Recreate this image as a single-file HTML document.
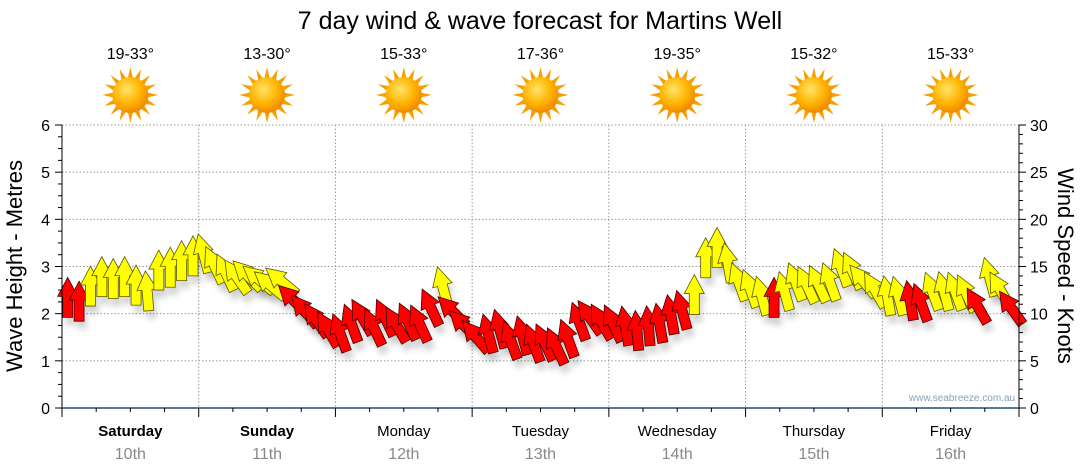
<!DOCTYPE html>
<html><head><meta charset="utf-8"><style>
html,body{margin:0;padding:0;background:#fff;}
svg{display:block;font-family:"Liberation Sans","DejaVu Sans",sans-serif;}
</style></head><body>
<svg id="chart" width="1080" height="475">
<defs>
<filter id="sh" x="-50%" y="-50%" width="200%" height="200%"><feGaussianBlur stdDeviation="3"/></filter>
<radialGradient id="sunG" cx="40%" cy="35%" r="65%"><stop offset="0" stop-color="#ffe36a"/><stop offset="0.6" stop-color="#ffb400"/><stop offset="1" stop-color="#f08a00"/></radialGradient>
</defs>
<text x="540" y="29" text-anchor="middle" font-size="25" fill="#000">7 day wind &amp; wave forecast for Martins Well</text>
<g id="grid"></g>
<g id="arrows"></g>
<g id="axes"></g>
<text x="962" y="401" text-anchor="middle" font-size="10" fill="#8aa0b8">www.seabreeze.com.au</text>
<text transform="translate(22,266) rotate(-90)" text-anchor="middle" font-size="22" fill="#000">Wave Height - Metres</text>
<text transform="translate(1058,266) rotate(90)" text-anchor="middle" font-size="22" fill="#000">Wind Speed - Knots</text>
</svg>
<script>
const days = ["Saturday","Sunday","Monday","Tuesday","Wednesday","Thursday","Friday"];
const dates = ["10th","11th","12th","13th","14th","15th","16th"];
const boldDays = [true,true,false,false,false,false,false];
const temps = ["19-33°","13-30°","15-33°","17-36°","19-35°","15-32°","15-33°"];
const leftTicks = [0,1,2,3,4,5,6];
const rightTicks = [0,5,10,15,20,25,30];
const windKnots = [11.3,10.9,12.5,13.5,13.3,13.5,12.6,12.0,14.2,14.5,15.2,15.7,
16.0,14.8,14.0,13.6,13.8,13.4,12.8,13.2,11.2,10.0,9.0,8.0,
7.6,8.6,9.3,8.2,9.2,8.5,8.8,8.6,10.3,12.5,10.0,8.5,
7.3,7.5,8.0,6.8,7.3,6.5,6.6,6.2,7.0,8.8,9.3,8.8,
8.6,8.3,7.8,8.3,8.6,9.5,10.0,11.6,15.5,16.6,15.0,13.0,
12.3,11.5,11.3,12.0,13.0,12.7,12.8,13.0,14.5,14.2,13.2,12.2,
11.5,11.5,11.0,10.8,12.0,12.0,12.0,11.8,10.5,13.5,12.2,10.3];
const windDir = [0,0,0,0,0,0,0,-5,0,0,0,0,
-15,-25,-25,-35,-45,-50,-50,-50,-45,-40,-35,-30,
-20,-20,-30,-25,-25,-30,-25,-25,-25,-15,-45,-45,
-40,-15,-15,-20,-15,-20,-25,-25,-20,-20,-35,-30,
-25,-10,-5,-5,-10,-10,-15,0,0,0,-10,-20,
-20,-15,0,-15,-20,-25,-25,-20,-20,-25,-40,-30,
-10,-15,-10,-20,-20,-15,-20,-25,-30,-15,-30,-35];
const windCat = ["R","R","Y","Y","Y","Y","Y","Y","Y","Y","Y","Y",
"Y","Y","Y","Y","Y","Y","Y","Y","R","R","R","R",
"R","R","R","R","R","R","R","R","R","Y","R","R",
"R","R","R","R","R","R","R","R","R","R","R","R",
"R","R","R","R","R","R","R","Y","Y","Y","Y","Y",
"Y","Y","R","Y","Y","Y","Y","Y","Y","Y","Y","Y",
"Y","Y","R","R","Y","Y","Y","Y","R","Y","Y","R"];

const NS="http://www.w3.org/2000/svg";
const X0=62,X1=1019,Y0=408,Y1=125;
const totalHours=168;
function xH(h){return X0+(h/totalHours)*(X1-X0);}
function yM(m){return Y0-(m/6)*(Y0-Y1);}
function yK(k){return Y0-(k/30)*(Y0-Y1);}
function mk(tag,attrs,parent){const e=document.createElementNS(NS,tag);for(const k in attrs)e.setAttribute(k,attrs[k]);parent.appendChild(e);return e;}
const grid=document.getElementById('grid'),axes=document.getElementById('axes'),arrows=document.getElementById('arrows'),svg=document.getElementById('chart');

leftTicks.forEach(v=>{ if(v>0){const l=mk('line',{x1:X0,x2:X1,y1:yM(v),y2:yM(v),stroke:'#999','stroke-dasharray':'1.5,2','stroke-width':1},grid);

}});
days.forEach((d,i)=>{ if(i>0){const l=mk('line',{x1:xH(i*24),x2:xH(i*24),y1:Y1,y2:Y0,stroke:'#999','stroke-dasharray':'1.5,2','stroke-width':1},grid);

}});

mk('line',{x1:X0,x2:X0,y1:Y1,y2:Y0,stroke:'#000'},axes);
mk('line',{x1:X1,x2:X1,y1:Y1,y2:Y0,stroke:'#000'},axes);
mk('line',{x1:X0,x2:X1,y1:Y0,y2:Y0,stroke:'#1f4f7a','stroke-width':1.5},axes);
for(let m=0;m<=24;m++){const y=yM(m/4);mk('line',{x1:X0-(m%4?4:7),x2:X0,y1:y,y2:y,stroke:'#000'},axes);}
for(let k=0;k<=30;k++){const y=yK(k);mk('line',{x1:X1,x2:X1+(k%5?4:7),y1:y,y2:y,stroke:'#000'},axes);}
leftTicks.forEach(v=>{const t=mk('text',{x:X0-12,y:yM(v)+6,'text-anchor':'end','font-size':16},axes);t.textContent=v;

});
rightTicks.forEach(v=>{const t=mk('text',{x:X1+11,y:yK(v)+6,'text-anchor':'start','font-size':16},axes);t.textContent=v;

});
for(let h=0;h<=168;h+=6){const x=xH(h);mk('line',{x1:x,x2:x,y1:Y0,y2:Y0+(h%24?4:9),stroke:'#000'},axes);}

days.forEach((d,i)=>{const cx=xH(i*24+12);
const t=mk('text',{x:cx,y:436,'text-anchor':'middle','font-size':15,'font-weight':boldDays[i]?'bold':'normal'},axes);t.textContent=d;


const t2=mk('text',{x:cx,y:459,'text-anchor':'middle','font-size':16,fill:'#888'},axes);t2.textContent=dates[i];


const t3=mk('text',{x:cx,y:59,'text-anchor':'middle','font-size':16},svg);t3.textContent=temps[i];


const g=mk('g',{transform:`translate(${cx},95)`},svg);


for(let r=0;r<16;r++){const a=r*22.5;mk('polygon',{points:'-2.5,-17 0,-28 2.5,-17',fill:'#f5a000',transform:`rotate(${a})`},g);}
mk('circle',{r:18,fill:'url(#sunG)'},g);
});

// arrow shape: tip at top, ~40px long, 20px head, 10px shaft
const arrowPts="0,-24 10,-5 5,-5 5,16 -5,16 -5,-5 -10,-5";
windKnots.forEach((k,i)=>{const x=xH(2*i+1),y=yK(k);
const s=mk('polygon',{points:arrowPts,fill:'rgba(0,0,0,0.16)',filter:'url(#sh)',transform:`translate(${x+3},${y+8}) rotate(${windDir[i]})`},arrows);

});
windKnots.forEach((k,i)=>{const x=xH(2*i+1),y=yK(k);const red=windCat[i]==='R';
const a=mk('polygon',{points:arrowPts,fill:red?'#ff0000':'#ffff00',stroke:red?'#4a0000':'#5a5a00','stroke-width':0.8,'stroke-linejoin':'miter',transform:`translate(${x},${y}) rotate(${windDir[i]})`},arrows);

});
</script>
</body></html>
